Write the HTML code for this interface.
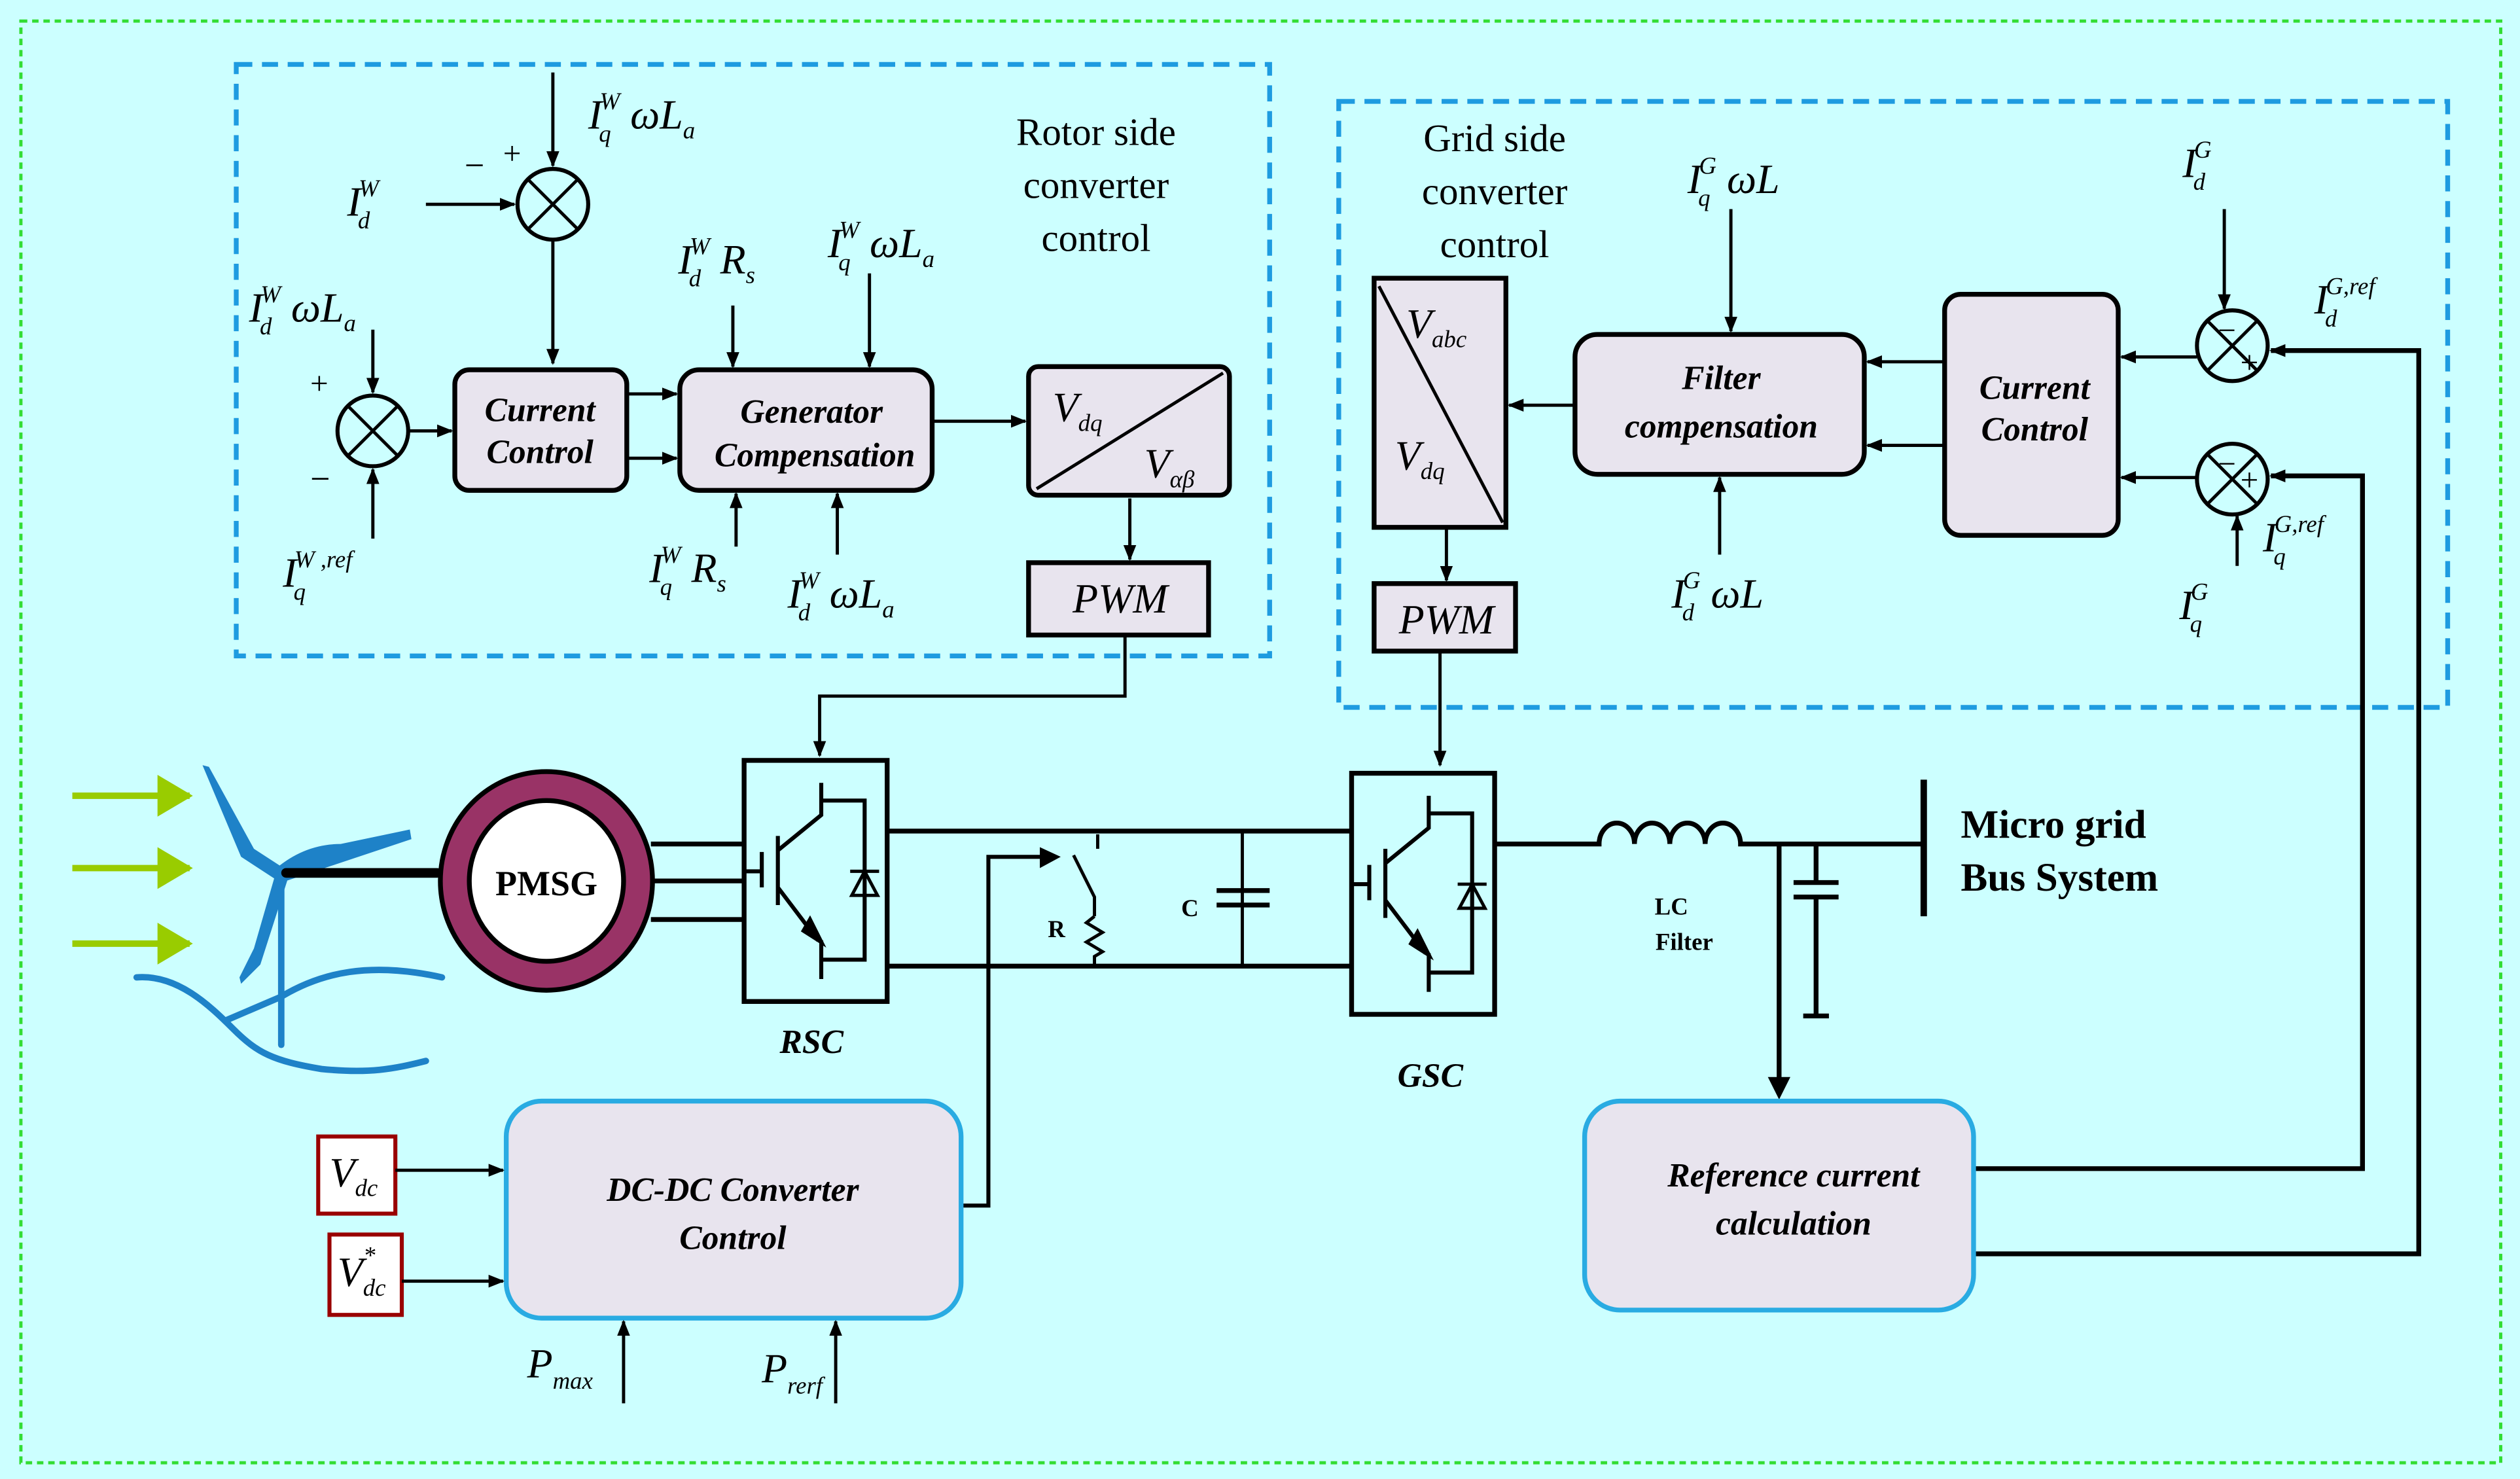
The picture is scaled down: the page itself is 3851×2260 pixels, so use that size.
<!DOCTYPE html>
<html><head><meta charset="utf-8"><style>
html,body{margin:0;padding:0;background:#ccffff;}
svg{display:block}
text{font-family:"Liberation Serif",serif;fill:#000}
.m{font-style:italic;font-size:26px}
.s{font-style:italic;font-size:15px}
.b{font-weight:bold;font-style:italic;font-size:21px}
</style></head><body>
<svg width="3851" height="2260" viewBox="0 0 1568 920" xmlns="http://www.w3.org/2000/svg">
<defs>
<marker id="a" markerWidth="10" markerHeight="10" refX="9" refY="5" orient="auto" markerUnits="userSpaceOnUse"><path d="M0,1 L10,5 L0,9z" fill="#000"/></marker>
<marker id="g" markerWidth="22" markerHeight="26" refX="20" refY="13" orient="auto" markerUnits="userSpaceOnUse"><path d="M0,0 L22,13 L0,26z" fill="#99cc00"/></marker>
<g id="igbt" fill="none" stroke="#000" stroke-width="2.5">
<path d="M0,70 H11 M11,58 V80 M21,48 V91 M48,15 V35 L21,57 M21,80 L46,113 M48,113 V137 M48,26 H75 V125 H48"/>
<path d="M41,100 L48,114 L37,107z" fill="#000"/>
<path d="M66,70 H84 M75,70 L67,85 H83z" stroke-width="2"/>
</g>
</defs>
<rect x="0" y="0" width="1568" height="920" fill="#ccffff"/>
<rect x="13" y="13" width="1543" height="897" fill="none" stroke="#33dd33" stroke-width="2" stroke-dasharray="4,3"/>
<rect x="147" y="40" width="643" height="368" fill="none" stroke="#1e9be0" stroke-width="3" stroke-dasharray="10,6"/>
<rect x="833" y="63" width="690" height="377" fill="none" stroke="#1e9be0" stroke-width="3" stroke-dasharray="10,6"/>

<g stroke="#000" stroke-width="2" fill="none">
<circle cx="344" cy="127" r="22" stroke-width="2.5"/><path d="M329,112 L359,142 M359,112 L329,142"/>
<path d="M344,45 V103" marker-end="url(#a)"/>
<path d="M265,127 H320" marker-end="url(#a)"/>
<path d="M344,149 V226" marker-end="url(#a)"/>
<circle cx="232" cy="268" r="22" stroke-width="2.5"/><path d="M217,253 L247,283 M247,253 L217,283"/>
<path d="M232,205 V244" marker-end="url(#a)"/>
<path d="M232,335 V292" marker-end="url(#a)"/>
<path d="M254,268 H281" marker-end="url(#a)"/>
<path d="M390,245 H421" marker-end="url(#a)"/>
<path d="M390,285 H421" marker-end="url(#a)"/>
<path d="M456,190 V228" marker-end="url(#a)"/>
<path d="M541,170 V228" marker-end="url(#a)"/>
<path d="M458,340 V307" marker-end="url(#a)"/>
<path d="M521,345 V307" marker-end="url(#a)"/>
<path d="M580,262 H638" marker-end="url(#a)"/>
<path d="M703,310 V348" marker-end="url(#a)"/>
<path d="M700,395 V433 H510 V470" marker-end="url(#a)"/>
<path d="M980,252 H939" marker-end="url(#a)"/>
<path d="M1077,130 V206" marker-end="url(#a)"/>
<path d="M1070,345 V297" marker-end="url(#a)"/>
<path d="M1210,225 H1162" marker-end="url(#a)"/>
<path d="M1210,277 H1162" marker-end="url(#a)"/>
<circle cx="1389" cy="215" r="22" stroke-width="2.5"/><path d="M1374,200 L1404,230 M1404,200 L1374,230"/>
<circle cx="1389" cy="298" r="22" stroke-width="2.5"/><path d="M1374,283 L1404,313 M1404,283 L1374,313"/>
<path d="M1367,222 H1320" marker-end="url(#a)"/>
<path d="M1367,297 H1320" marker-end="url(#a)"/>
<path d="M1384,130 V192" marker-end="url(#a)"/>
<path d="M1392,352 V321" marker-end="url(#a)"/>
<path d="M1228,727 H1470 V296 H1413" stroke-width="3" marker-end="url(#a)"/>
<path d="M1228,780 H1505 V218 H1413" stroke-width="3" marker-end="url(#a)"/>
<path d="M900,328 V361" marker-end="url(#a)"/>
<path d="M896,405 V476" marker-end="url(#a)"/>
</g>
<rect x="283" y="230" width="107" height="75" rx="9" fill="#e8e4ee" stroke="#000" stroke-width="3"/>
<rect x="423" y="230" width="157" height="75" rx="12" fill="#e8e4ee" stroke="#000" stroke-width="3"/>
<rect x="640" y="228" width="125" height="80" rx="6" fill="#e8e4ee" stroke="#000" stroke-width="3"/>
<path d="M645,304 L761,232" stroke="#000" stroke-width="2"/>
<rect x="640" y="350" width="112" height="45" fill="#e8e4ee" stroke="#000" stroke-width="3"/>
<rect x="855" y="173" width="82" height="155" fill="#e8e4ee" stroke="#000" stroke-width="3"/>
<path d="M858,178 L935,325" stroke="#000" stroke-width="2"/>
<rect x="855" y="363" width="88" height="42" fill="#e8e4ee" stroke="#000" stroke-width="3"/>
<rect x="980" y="208" width="180" height="87" rx="14" fill="#e8e4ee" stroke="#000" stroke-width="3"/>
<rect x="1210" y="183" width="108" height="150" rx="10" fill="#e8e4ee" stroke="#000" stroke-width="3"/>

<text x="682" y="90" font-size="24" text-anchor="middle">Rotor side</text>
<text x="682" y="123" font-size="24" text-anchor="middle">converter</text>
<text x="682" y="156" font-size="24" text-anchor="middle">control</text>
<text x="930" y="94" font-size="24" text-anchor="middle">Grid side</text>
<text x="930" y="127" font-size="24" text-anchor="middle">converter</text>
<text x="930" y="160" font-size="24" text-anchor="middle">control</text>

<text class="b" x="336" y="262" text-anchor="middle">Current</text>
<text class="b" x="336" y="288" text-anchor="middle">Control</text>
<text class="b" x="505" y="263" text-anchor="middle">Generator</text>
<text class="b" x="507" y="290" text-anchor="middle">Compensation</text>
<text class="b" x="1071" y="242" font-size="23" text-anchor="middle">Filter</text>
<text class="b" x="1071" y="272" font-size="23" text-anchor="middle">compensation</text>
<text class="b" x="1266" y="248" text-anchor="middle">Current</text>
<text class="b" x="1266" y="274" text-anchor="middle">Control</text>
<text class="m" x="697" y="381" text-anchor="middle">PWM</text>
<text class="m" x="900" y="394" text-anchor="middle">PWM</text>
<text class="m" x="655" y="262">V<tspan class="s" dy="6">dq</tspan></text>
<text class="m" x="712" y="297">V<tspan class="s" dy="6">αβ</tspan></text>
<text class="m" x="875" y="210">V<tspan class="s" dy="6">abc</tspan></text>
<text class="m" x="868" y="292">V<tspan class="s" dy="6">dq</tspan></text>

<g class="m">
<text x="366" y="80">I<tspan class="s" dx="-2" dy="8">q</tspan><tspan class="s" dx="-7" dy="-20">W</tspan><tspan dy="12"> ωL</tspan><tspan class="s" dy="6">a</tspan></text>
<text x="216" y="134">I<tspan class="s" dx="-2" dy="8">d</tspan><tspan class="s" dx="-7" dy="-20">W</tspan></text>
<text x="155" y="200">I<tspan class="s" dx="-2" dy="8">d</tspan><tspan class="s" dx="-7" dy="-20">W</tspan><tspan dy="12"> ωL</tspan><tspan class="s" dy="6">a</tspan></text>
<text x="176" y="365">I<tspan class="s" dx="-2" dy="8">q</tspan><tspan class="s" dx="-7" dy="-20">W ,ref</tspan></text>
<text x="422" y="170">I<tspan class="s" dx="-2" dy="8">d</tspan><tspan class="s" dx="-7" dy="-20">W</tspan><tspan dy="12"> R</tspan><tspan class="s" dy="6">s</tspan></text>
<text x="515" y="160">I<tspan class="s" dx="-2" dy="8">q</tspan><tspan class="s" dx="-7" dy="-20">W</tspan><tspan dy="12"> ωL</tspan><tspan class="s" dy="6">a</tspan></text>
<text x="404" y="362">I<tspan class="s" dx="-2" dy="8">q</tspan><tspan class="s" dx="-7" dy="-20">W</tspan><tspan dy="12"> R</tspan><tspan class="s" dy="6">s</tspan></text>
<text x="490" y="378">I<tspan class="s" dx="-2" dy="8">d</tspan><tspan class="s" dx="-7" dy="-20">W</tspan><tspan dy="12"> ωL</tspan><tspan class="s" dy="6">a</tspan></text>
<text x="1050" y="120">I<tspan class="s" dx="-2" dy="8">q</tspan><tspan class="s" dx="-7" dy="-20">G</tspan><tspan dy="12"> ωL</tspan></text>
<text x="1040" y="378">I<tspan class="s" dx="-2" dy="8">d</tspan><tspan class="s" dx="-7" dy="-20">G</tspan><tspan dy="12"> ωL</tspan></text>
<text x="1358" y="110">I<tspan class="s" dx="-2" dy="8">d</tspan><tspan class="s" dx="-7" dy="-20">G</tspan></text>
<text x="1440" y="195">I<tspan class="s" dx="-2" dy="8">d</tspan><tspan class="s" dx="-7" dy="-20">G,ref</tspan></text>
<text x="1408" y="343">I<tspan class="s" dx="-2" dy="8">q</tspan><tspan class="s" dx="-7" dy="-20">G,ref</tspan></text>
<text x="1356" y="385">I<tspan class="s" dx="-2" dy="8">q</tspan><tspan class="s" dx="-7" dy="-20">G</tspan></text>
</g>
<text x="289" y="110" font-size="22">−</text><text x="313" y="102" font-size="20">+</text>
<text x="193" y="245" font-size="20">+</text><text x="193" y="305" font-size="22">−</text>
<text x="1380" y="212" font-size="20">−</text><text x="1394" y="232" font-size="20">+</text>
<text x="1380" y="295" font-size="20">−</text><text x="1394" y="305" font-size="20">+</text>

<g stroke="#99cc00" stroke-width="4" fill="none">
<path d="M45,495 H118" marker-end="url(#g)"/><path d="M45,540 H118" marker-end="url(#g)"/><path d="M45,587 H118" marker-end="url(#g)"/>
</g>
<g fill="#1e82c8">
<path d="M126,476 L130,477 L158,528 L178,541 L173,548 L150,533z"/>
<path d="M172,540 Q190,525 212,525 L255,516 L256,522 L178,548z"/>
<path d="M171,545 L179,547 L162,600 L150,612 L149,608 L158,590z"/>
</g>
<g stroke="#1e82c8" fill="none" stroke-linecap="round">
<path d="M175,545 V650" stroke-width="4"/>
<path d="M85,608 C110,606 130,625 145,640 C160,655 170,660 200,665 C230,668 245,665 265,660" stroke-width="4"/>
<path d="M140,635 L175,620 C200,605 230,598 275,608" stroke-width="4"/>
</g>
<path d="M178,543 H272" stroke="#000" stroke-width="6" stroke-linecap="round"/>
<ellipse cx="340" cy="548" rx="66" ry="68" fill="#993366" stroke="#000" stroke-width="3"/>
<ellipse cx="340" cy="548" rx="48" ry="50" fill="#fff" stroke="#000" stroke-width="3"/>
<text x="340" y="557" font-size="22" font-weight="bold" text-anchor="middle">PMSG</text>
<path d="M405,525 H462 M406,548 H462 M405,572 H462" stroke="#000" stroke-width="3"/>

<rect x="463" y="473" width="89" height="150" fill="none" stroke="#000" stroke-width="3"/>
<use href="#igbt" x="463" y="472"/>
<rect x="841" y="481" width="89" height="150" fill="none" stroke="#000" stroke-width="3"/>
<use href="#igbt" x="841" y="480"/>
<text class="b" x="505" y="655" font-size="24" text-anchor="middle">RSC</text>
<text class="b" x="890" y="676" font-size="24" text-anchor="middle">GSC</text>
<g stroke="#000" fill="none">
<path d="M552,517 H841 M552,601 H841" stroke-width="3"/>
<path d="M683,519 V528 M668,532 L681,558 V570 M681,570 l-5,4 l10,6 l-10,6 l10,6 l-5,3 V601" stroke-width="2"/>
<path d="M773,517 V601" stroke-width="2"/>
<path d="M757,554 H790 M757,563 H790" stroke-width="3"/>
<path d="M598,750 H615 V533 H650" stroke-width="2.5"/>
</g>
<path d="M647,527 L660,533 L647,540z" fill="#000"/>
<text x="652" y="583" font-size="15" font-weight="bold">R</text>
<text x="735" y="570" font-size="15" font-weight="bold">C</text>

<g stroke="#000" fill="none" stroke-width="3">
<path d="M930,525 H995 A11,13 0 0 1 1017,525 A11,13 0 0 1 1039,525 A11,13 0 0 1 1061,525 A11,13 0 0 1 1083,525 H1197"/>
<path d="M1197,485 V570" stroke-width="4"/>
<path d="M1130,525 V549 M1116,549 H1144 M1116,558 H1144 M1130,558 V632 M1122,632 H1138"/>
<path d="M1107,525 V680" stroke-width="3"/>
</g>
<path d="M1100,670 L1107,684 L1114,670z" fill="#000"/>
<text x="1040" y="569" font-size="15" font-weight="bold" text-anchor="middle">LC</text>
<text x="1048" y="591" font-size="15" font-weight="bold" text-anchor="middle">Filter</text>
<text x="1220" y="521" font-size="25" font-weight="bold">Micro grid</text>
<text x="1220" y="554" font-size="25" font-weight="bold">Bus System</text>

<rect x="986" y="685" width="242" height="130" rx="22" fill="#e8e4ee" stroke="#29abe2" stroke-width="3"/>
<text class="b" x="1116" y="738" font-size="23" text-anchor="middle">Reference current</text>
<text class="b" x="1116" y="768" font-size="23" text-anchor="middle">calculation</text>
<rect x="315" y="685" width="283" height="135" rx="22" fill="#e8e4ee" stroke="#29abe2" stroke-width="3"/>
<text class="b" x="456" y="747" font-size="23" text-anchor="middle">DC-DC Converter</text>
<text class="b" x="456" y="777" font-size="23" text-anchor="middle">Control</text>

<rect x="198" y="707" width="48" height="48" fill="#fff" stroke="#990000" stroke-width="2.5"/>
<text class="m" x="205" y="738">V<tspan class="s" dy="6">dc</tspan></text>
<rect x="205" y="768" width="45" height="50" fill="#fff" stroke="#990000" stroke-width="2.5"/>
<text class="m" x="210" y="800">V<tspan class="s" dy="6">dc</tspan><tspan class="s" dx="-14" dy="-20">*</tspan></text>
<g stroke="#000" stroke-width="2" fill="none">
<path d="M246,728 H313" marker-end="url(#a)"/>
<path d="M250,797 H313" marker-end="url(#a)"/>
<path d="M388,873 V822" marker-end="url(#a)"/>
<path d="M520,873 V822" marker-end="url(#a)"/>
</g>
<text class="m" x="328" y="857">P<tspan class="s" dy="7">max</tspan></text>
<text class="m" x="474" y="860">P<tspan class="s" dy="7">rerf</tspan></text>
</svg>
</body></html>
